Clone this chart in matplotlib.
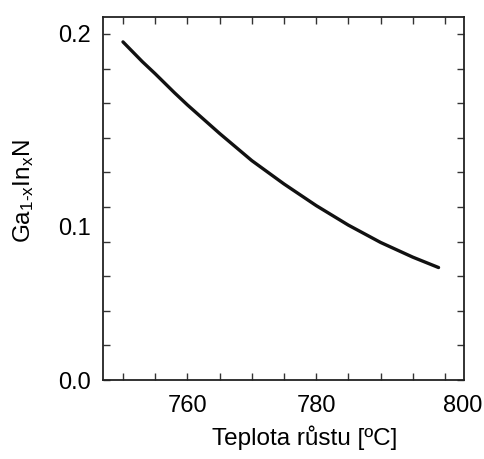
import numpy as np
import matplotlib
matplotlib.use('Agg')
import matplotlib.pyplot as plt
from matplotlib.ticker import MultipleLocator
from matplotlib.transforms import ScaledTranslation

# growth temperature [C] and In fraction x
temps = [750, 753, 755, 758, 760, 765, 770, 775, 780, 785, 790, 795, 799]
x_in = [0.1954, 0.184, 0.177, 0.166, 0.159, 0.1425, 0.1268, 0.1133, 0.1008,
        0.0895, 0.0795, 0.071, 0.065]

xticks = [760, 780, 800]
yticks = [0.0, 0.1, 0.2]
yticklabels = ['0.0', '0.1', '0.2']

plt.rcParams['font.family'] = ['Liberation Sans', 'DejaVu Sans']
plt.rcParams['mathtext.fontset'] = 'custom'
plt.rcParams['mathtext.rm'] = 'Liberation Sans'
plt.rcParams['mathtext.it'] = 'Liberation Sans'

fig = plt.figure(figsize=(4.85, 4.59), dpi=100)
ax = fig.add_axes([0.2124, 0.1721, 0.7443, 0.7909])

ax.plot(temps, x_in, color='#111111', lw=2.4, solid_capstyle='round',
        solid_joinstyle='round')

ax.set_xlim(746.9, 802.95)
ax.set_ylim(0, 0.2098)
ax.set_xticks(xticks)
ax.set_xticklabels([str(t) for t in xticks])
ax.set_yticks(yticks)
ax.set_yticklabels(yticklabels)
ax.xaxis.set_minor_locator(MultipleLocator(5))
ax.yaxis.set_minor_locator(MultipleLocator(0.02))

ax.tick_params(which='both', direction='in', top=True, right=True,
               length=5, width=1, color='#333333')
ax.tick_params(axis='x', labelsize=17, pad=11)
ax.tick_params(axis='y', labelsize=17, pad=9)
for s in ax.spines.values():
    s.set_linewidth(1.3)
    s.set_color('#222222')

# labels in the source are a bit off their ticks
lbl = ax.get_xticklabels()[2]
lbl.set_transform(lbl.get_transform() + ScaledTranslation(18/100, 0, fig.dpi_scale_trans))
lbl = ax.get_yticklabels()[1]
lbl.set_transform(lbl.get_transform() + ScaledTranslation(0, -20/100, fig.dpi_scale_trans))

ax.set_xlabel('Teplota růstu [ºC]', fontsize=17.5)
ax.xaxis.set_label_coords(0.56, -0.125)
ax.set_ylabel(r'Ga$_{1\text{-}x}$In$_x$N', fontsize=17.5)
ax.yaxis.set_label_coords(-0.185, 0.52)

fig.savefig('out.png', dpi=100)
